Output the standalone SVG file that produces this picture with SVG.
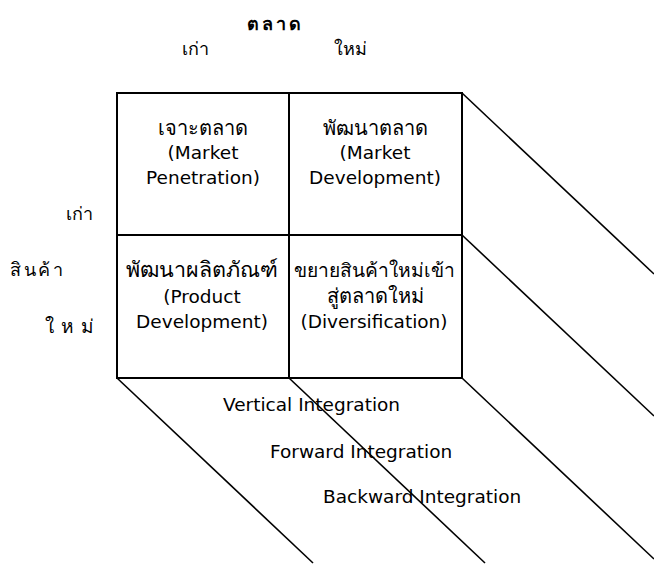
<svg xmlns="http://www.w3.org/2000/svg" width="654" height="564" viewBox="0 0 654 564">
<style>
  text { font-family: "DejaVu Sans", "Liberation Sans", "Noto Sans", sans-serif; font-size: 18.5px; fill: #000; }
  .th { font-size: 20px; }
  .c { text-anchor: middle; }
  .head { font-size: 18px; font-weight: bold; letter-spacing: 3px; }
  .lbl { font-size: 18px; }
  .cell { fill: #fff; stroke: #000; stroke-width: 2; }
  .conn line { stroke: #000; stroke-width: 1.6; }
</style>
<rect width="654" height="564" fill="#fff"/>
<g id="connectors" class="conn">
  <line x1="462" y1="93" x2="654" y2="274"/>
  <line x1="462" y1="235" x2="654" y2="416"/>
  <line x1="462" y1="378" x2="654" y2="559"/>
  <line x1="117" y1="378" x2="313" y2="563"/>
  <line x1="289" y1="378" x2="485" y2="563"/>
</g>
<g id="headers">
  <text class="c head" x="275" y="30">ตลาด</text>
  <text class="c lbl" x="195" y="55">เก่า</text>
  <text class="c lbl" x="350" y="55">ใหม่</text>
  <text class="c lbl" x="79" y="220">เก่า</text>
  <text class="lbl" x="10" y="276" style="letter-spacing:2.5px">สินค้า</text>
  <text class="lbl" x="45" y="333" style="letter-spacing:7px;font-size:19px">ใหม่</text>
</g>
<g id="market-penetration">
  <rect class="cell" x="117" y="93" width="172" height="142"/>
  <text class="c th" x="203" y="135">เจาะตลาด</text>
  <text class="c" x="203" y="159">(Market</text>
  <text class="c" x="203" y="184">Penetration)</text>
</g>
<g id="market-development">
  <rect class="cell" x="289" y="93" width="173" height="142"/>
  <text class="c th" x="375" y="135">พัฒนาตลาด</text>
  <text class="c" x="375" y="159">(Market</text>
  <text class="c" x="375" y="184">Development)</text>
</g>
<g id="product-development">
  <rect class="cell" x="117" y="235" width="172" height="143"/>
  <text class="c th" x="202" y="277" style="font-size:21.5px">พัฒนาผลิตภัณฑ์</text>
  <text class="c" x="202" y="303">(Product</text>
  <text class="c" x="202" y="328">Development)</text>
</g>
<g id="diversification">
  <rect class="cell" x="289" y="235" width="173" height="143"/>
  <text class="c th" x="374" y="277" style="font-size:19.2px">ขยายสินค้าใหม่เข้า</text>
  <text class="c th" x="375" y="303">สู่ตลาดใหม่</text>
  <text class="c" x="374" y="328">(Diversification)</text>
</g>
<g id="integration-labels">
  <text x="223" y="411">Vertical Integration</text>
  <text x="270" y="458">Forward Integration</text>
  <text x="323" y="503">Backward Integration</text>
</g>
</svg>
